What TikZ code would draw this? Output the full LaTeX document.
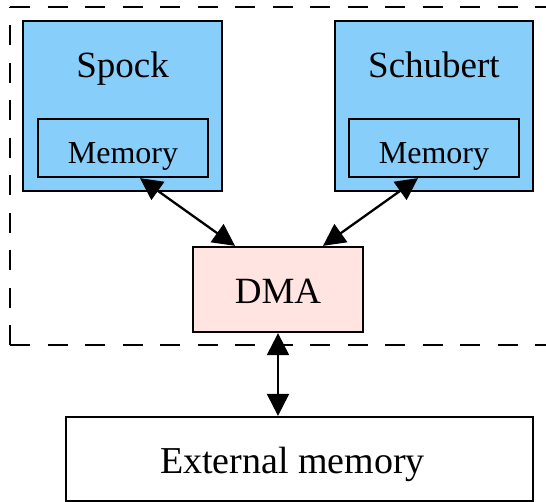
\documentclass[tikz,border=0pt]{standalone}
\usepackage{fontspec}
\setmainfont{Liberation Serif}
\usetikzlibrary{arrows.meta,calc}
\definecolor{sky}{HTML}{87CEFA}
\definecolor{misty}{HTML}{FFE4E1}
\begin{document}
\begin{tikzpicture}[x=1pt,y=-1pt,
  box/.style={draw=black,line width=2.3pt,rectangle,inner sep=0pt},
  bigtext/.style={font=\fontsize{37}{44}\selectfont,inner sep=0pt,anchor=base},
  memtext/.style={font=\fontsize{32}{38}\selectfont,inner sep=0pt,anchor=base},
  link/.style={line width=2.3pt,{Triangle[length=22pt,width=22pt]}-{Triangle[length=22pt,width=22pt]}},
  frame/.style={line width=2.3pt,dash pattern=on 20pt off 17.5pt}]
\useasboundingbox (0,0) rectangle (546,501);
% cluster frame (open to the right)
\coordinate (fbl) at (10,345);
\coordinate (ftl) at (10,7);
\coordinate (ftr) at (570,7);
\coordinate (fbr) at (570,345);
\draw[frame] (fbl) -- (ftl);
\draw[frame] (ftl) -- (ftr);
\draw[frame] (fbl) -- (fbr);
% Spock
\node[box,fill=sky,minimum width=199pt,minimum height=170pt] (spock) at (122.5,106) {};
\node[bigtext] (spocklabel) at (122.5,77) {Spock};
\node[box,fill=sky,minimum width=170pt,minimum height=58pt] (spockmem) at (123,148) {};
\node[memtext] (spockmemlabel) at (123,163) {Memory};
% Schubert
\node[box,fill=sky,minimum width=198pt,minimum height=170pt] (schubert) at (434,106) {};
\node[bigtext] (schubertlabel) at (434,77) {Schubert};
\node[box,fill=sky,minimum width=170pt,minimum height=58pt] (schubertmem) at (434,148) {};
\node[memtext] (schubertmemlabel) at (434,163) {Memory};
% DMA
\node[box,fill=misty,minimum width=170pt,minimum height=85pt] (dma) at (278,289.5) {};
\node[bigtext] (dmalabel) at (278,303) {DMA};
% External memory
\node[box,fill=white,minimum width=467pt,minimum height=84pt] (ext) at (299.5,459) {};
\node[bigtext,font=\fontsize{38}{45}\selectfont] (extlabel) at (292.5,473) {External memory};
% connectors
\draw[link] ($(spockmem.south)+(17,0)$) -- ($(dma.north)+(-43,0)$);
\draw[link] ($(schubertmem.south)+(-16,0)$) -- ($(dma.north)+(45,0)$);
\draw[link] (dma.south) -- (dma.south |- ext.north);
\end{tikzpicture}
\end{document}
